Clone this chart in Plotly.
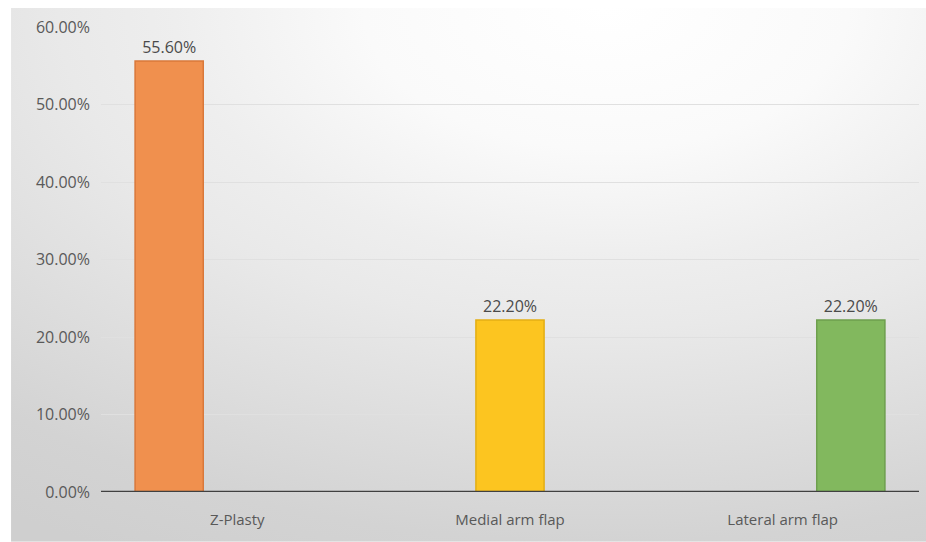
import base64
import plotly.graph_objects as go

categories = ["Z-Plasty", "Medial arm flap", "Lateral arm flap"]
series_names = ["Z-Plasty", "Medial arm flap", "Lateral arm flap"]
# each series has a value only in its own category (clustered chart)
series_values = [
    [55.6, None, None],
    [None, 22.2, None],
    [None, None, 22.2],
]
fill_colors = ["#F0904E", "#FCC520", "#82B85E"]
line_colors = ["#D9783A", "#E3AE14", "#6E9F4E"]
y_ticks = [0, 10, 20, 30, 40, 50, 60]
y_tick_labels = [f"{v:.2f}%" for v in y_ticks]

svg = (
    '<svg xmlns="http://www.w3.org/2000/svg" width="915" height="534" '
    'viewBox="0 0 915 534" preserveAspectRatio="none">'
    '<defs><radialGradient id="g" cx="0.65" cy="0" r="1.15" gradientUnits="objectBoundingBox">'
    '<stop offset="0" stop-color="#ffffff"/>'
    '<stop offset="0.23" stop-color="#fafafa"/>'
    '<stop offset="0.41" stop-color="#eeeeee"/>'
    '<stop offset="0.52" stop-color="#e9e9e9"/>'
    '<stop offset="0.87" stop-color="#d3d3d3"/>'
    '<stop offset="1" stop-color="#cfcfcf"/>'
    '</radialGradient></defs>'
    '<rect width="915" height="534" fill="url(#g)"/></svg>'
)
bg_src = "data:image/svg+xml;base64," + base64.b64encode(svg.encode()).decode()

FONT = "Open Sans"

fig = go.Figure()
for name, vals, fc, lc in zip(series_names, series_values, fill_colors, line_colors):
    fig.add_trace(
        go.Bar(
            name=name,
            x=categories,
            y=vals,
            marker=dict(color=fc, line=dict(color=lc, width=1.5)),
            texttemplate="%{y:.2f}%",
            textposition="outside",
            textfont=dict(family=FONT, size=16, color="#4a4a4a"),
            cliponaxis=False,
        )
    )

fig.update_layout(
    width=926,
    height=542,
    margin=dict(l=101, r=7, t=27, b=50),
    paper_bgcolor="white",
    plot_bgcolor="rgba(0,0,0,0)",
    showlegend=False,
    barmode="group",
    bargap=0.25,
    bargroupgap=0,
    font=dict(family=FONT, size=16, color="#595959"),
    images=[
        dict(
            source=bg_src,
            xref="paper",
            yref="paper",
            x=-0.110,
            y=1.0409,
            sizex=1.1186,
            sizey=1.148,
            sizing="stretch",
            xanchor="left",
            yanchor="top",
            layer="below",
        )
    ],
    xaxis=dict(
        type="category",
        range=[-0.5, 2.5],
        showgrid=False,
        showline=False,
        ticks="",
        tickfont=dict(family=FONT, size=15, color="#595959"),
        ticklabelstandoff=17,
        zeroline=False,
    ),
    yaxis=dict(
        range=[0, 60],
        tickvals=y_ticks,
        ticktext=y_tick_labels,
        showgrid=True,
        gridcolor="#e0e0e0",
        gridwidth=1,
        zeroline=False,
        showline=False,
        ticks="",
        ticklabelstandoff=10,
        tickfont=dict(family=FONT, size=16, color="#595959"),
    ),
    shapes=[
        dict(
            type="line",
            xref="paper",
            yref="y",
            x0=0,
            x1=1,
            y0=0,
            y1=0,
            line=dict(color="#404040", width=2.5),
            layer="above",
        )
    ],
)

fig.write_html("out.html")
